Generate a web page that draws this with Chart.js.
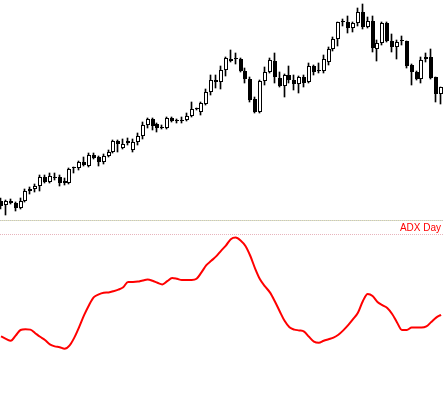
<!DOCTYPE html>
<html>
<head>
<meta charset="utf-8">
<script src="https://cdn.jsdelivr.net/npm/chart.js@4.4.0/dist/chart.umd.min.js"></script>
<style>
    html, body { margin: 0; padding: 0; background: #fff; overflow: hidden; }
    #wrap { position: relative; width: 443px; height: 398px; }
    #priceChart { position: absolute; left: 0; top: 0; }
    #adxChart { position: absolute; left: 0; top: 220px; }
</style>
</head>
<body>
<div id="wrap">
    <canvas id="priceChart" width="443" height="220"></canvas>
    <canvas id="adxChart" width="443" height="178"></canvas>
</div>
<script>
// Daily candles (price units)
const opens = [
    20, 16, 20, 18, 13, 20, 32, 32, 35, 44,
    39, 44, 44, 38, 38, 53, 53, 59, 55, 66,
    64, 59, 65, 69, 80, 73, 78, 71, 79, 85,
    96, 102, 97, 93, 93, 103, 100, 100, 101, 105,
    112, 109, 117, 129, 141, 139, 151, 162, 162, 162,
    150, 142, 122, 109, 140, 149, 160, 143, 135, 146,
    141, 137, 144, 139, 155, 150, 150, 159, 172, 182,
    199, 199, 193, 198, 209, 194, 200, 172, 178, 198,
    180, 174, 180, 180, 156, 149, 142, 162, 164, 144,
    127
];
const highs = [
    23, 21, 22, 19, 23, 32, 34, 37, 46, 46,
    48, 48, 46, 43, 53, 54, 60, 64, 68, 68,
    65, 67, 71, 81, 81, 82, 83, 82, 88, 99,
    103, 103, 98, 96, 104, 104, 102, 104, 108, 119,
    113, 119, 132, 146, 146, 155, 164, 171, 168, 163,
    153, 144, 124, 141, 154, 163, 168, 149, 147, 155,
    146, 145, 146, 158, 156, 158, 166, 174, 184, 199,
    202, 205, 199, 213, 217, 204, 205, 181, 199, 199,
    187, 181, 185, 180, 157, 150, 164, 168, 172, 144,
    134
];
const lows = [
    12, 6, 17, 10, 12, 19, 27, 29, 30, 38,
    38, 41, 35, 36, 37, 48, 51, 55, 54, 62,
    55, 57, 64, 68, 69, 72, 76, 69, 76, 82,
    93, 91, 89, 92, 92, 99, 98, 98, 100, 104,
    111, 106, 116, 126, 133, 132, 145, 159, 157, 149,
    138, 119, 108, 108, 136, 148, 138, 134, 124, 138,
    131, 128, 134, 138, 146, 148, 148, 156, 170, 175,
    195, 188, 189, 195, 192, 193, 169, 160, 176, 179,
    169, 162, 176, 153, 136, 141, 138, 159, 142, 119,
    117
];
const closes = [
    15, 20, 18, 13, 20, 30, 30, 35, 44, 39,
    45, 43, 38, 40, 52, 53, 59, 56, 66, 63,
    59, 65, 69, 80, 77, 77, 80, 79, 85, 96,
    102, 95, 93, 93, 103, 100, 100, 100, 105, 112,
    112, 118, 129, 141, 139, 151, 163, 160, 162, 150,
    142, 121, 109, 140, 149, 161, 144, 135, 146, 141,
    137, 144, 138, 155, 149, 150, 162, 172, 182, 199,
    199, 193, 198, 209, 194, 200, 173, 178, 198, 180,
    174, 179, 180, 155, 149, 142, 161, 164, 143, 127,
    134
];
// ADX line, one value per candle
const adx = [
    15.9, 15.3, 14.8, 16.1, 17.5, 17.7, 17.6, 16.7, 15.8, 15.0,
    13.9, 13.4, 13.2, 12.8, 13.6, 15.6, 18.3, 21.2, 23.7, 25.7,
    26.4, 26.8, 26.9, 27.2, 27.6, 28.2, 29.5, 29.5, 29.6, 29.9,
    30.1, 29.8, 29.3, 28.9, 29.7, 30.5, 30.3, 30.0, 30.0, 30.0,
    30.3, 31.9, 33.7, 34.8, 35.9, 37.3, 38.6, 40.2, 40.6, 39.9,
    38.5, 36.0, 32.8, 30.1, 28.4, 26.9, 24.7, 22.2, 19.8, 18.2,
    17.6, 17.4, 17.1, 15.8, 14.6, 14.3, 14.8, 15.2, 15.6, 16.3,
    17.4, 18.7, 20.2, 21.8, 24.7, 26.5, 26.0, 24.5, 23.7, 23.0,
    21.5, 19.4, 17.5, 17.5, 18.1, 18.1, 18.1, 18.4, 19.5, 20.6,
    21.3
];
const adxLabel = 'ADX Day';

const idx = opens.map((_, i) => i);

// shared x axis: candle index
const xScale = { type: 'linear', min: -0.2, max: 90.4, offset: false, display: false };

// snap candle x to whole pixels so the 1px lines stay crisp
const pixelSnap = {
    id: 'pixelSnap',
    afterDatasetsUpdate(chart) {
        chart.getDatasetMeta(0).data.forEach(el => { el.x = Math.round(el.x) - 0.5; });
        chart.getDatasetMeta(1).data.forEach(el => { el.x = Math.round(el.x); });
    }
};

// Price panel
new Chart(document.getElementById('priceChart').getContext('2d'), {
    type: 'bar',
    data: {
        datasets: [{
            label: 'wick',
            data: idx.map(i => ({ x: i, y: [lows[i], highs[i]] })),
            backgroundColor: '#000',
            borderWidth: 0,
            barThickness: 1,
            grouped: false,
            order: 2
        }, {
            label: 'body',
            data: idx.map(i => ({ x: i, y: [opens[i], closes[i]] })),
            backgroundColor: (c) => {
                if (c.dataIndex === undefined) return '#fff';
                return closes[c.dataIndex] <= opens[c.dataIndex] ? '#000' : '#fff';
            },
            borderColor: '#000',
            borderWidth: 1,
            borderSkipped: false,
            inflateAmount: 0,
            barThickness: 4,
            minBarLength: 1,
            grouped: false,
            order: 1
        }]
    },
    options: {
        responsive: false,
        animation: false,
        events: [],
        layout: { padding: 0 },
        plugins: { legend: { display: false }, tooltip: { enabled: false } },
        scales: {
            x: xScale,
            y: { min: 1, max: 221, display: false }
        }
    },
    plugins: [pixelSnap]
});

// separators + panel caption
const panelDeco = {
    id: 'panelDeco',
    afterDraw(chart) {
        const ctx = chart.ctx;
        const w = chart.width;
        ctx.save();
        for (let x = 0; x < w; x++) {
            ctx.fillStyle = x % 2 ? '#e4e4b8' : '#c4c4c4';
            ctx.fillRect(x, 0, 1, 1);
        }
        ctx.fillStyle = '#e8b4bc';
        for (let x = 0; x < w; x += 2) ctx.fillRect(x, 14, 1, 1);
        ctx.fillStyle = '#ff0000';
        ctx.font = '10px "Liberation Sans", Arial, sans-serif';
        ctx.textAlign = 'right';
        ctx.textBaseline = 'alphabetic';
        ctx.fillText(adxLabel, 441, 11);
        ctx.restore();
    }
};

// ADX panel
new Chart(document.getElementById('adxChart').getContext('2d'), {
    type: 'line',
    data: {
        datasets: [{
            label: adxLabel,
            data: idx.map(i => ({ x: i, y: adx[i] })),
            borderColor: '#ff0000',
            borderWidth: 2,
            pointRadius: 0,
            tension: 0.4,
            cubicInterpolationMode: 'monotone'
        }]
    },
    options: {
        responsive: false,
        animation: false,
        events: [],
        layout: { padding: 0 },
        plugins: { legend: { display: false }, tooltip: { enabled: false } },
        scales: {
            x: xScale,
            y: { min: 0.5, max: 45, display: false }
        }
    },
    plugins: [panelDeco]
});
</script>
</body>
</html>
